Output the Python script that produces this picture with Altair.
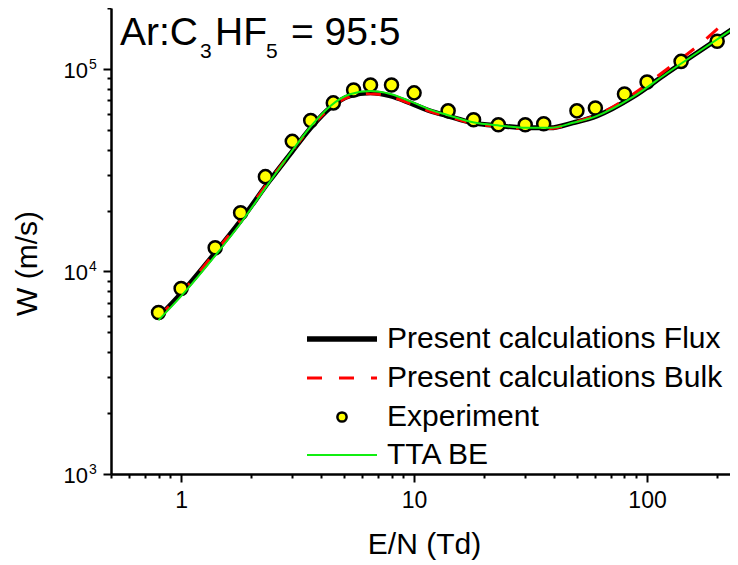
import altair as alt
import pandas as pd

# ---------------- data ----------------
exp_E = [0.8, 1.0, 1.4, 1.8, 2.3, 3.0, 3.6, 4.5, 5.5, 6.5, 8.0, 10, 14, 18, 23, 30, 36, 50, 60, 80, 100, 140, 200]
exp_W = [6280, 8250, 13100, 19500, 29400, 43900, 55700, 68000, 78800, 83400, 83400, 76200, 62100, 56100,
         53000, 53000, 53600, 62100, 64200, 75300, 86300, 109000, 137000]

flux_E = [0.8, 1.0, 1.37, 1.8, 2.4, 2.94, 3.6, 4.36, 5.3, 6.5, 7.9, 9.6, 11.7, 13.9, 17.9, 23.4, 30.5, 38.4,
          48, 61, 87, 122, 169, 230]
flux_W = [5940, 7790, 12000, 17800, 28100, 38000, 51200, 64300, 73600, 76200, 73600, 68000, 62100, 58700,
          54200, 52400, 51200, 51200, 54200, 58700, 72800, 95500, 123000, 156000]

bulk_E = [0.8, 1.0, 1.37, 1.8, 2.4, 2.94, 3.6, 4.36, 5.3, 6.5, 7.9, 9.6, 11.7, 13.9, 17.9, 23.4, 30.5, 38.4,
          48, 61, 87, 122, 169, 220]
bulk_W = [5950, 7800, 12050, 17900, 28200, 38100, 51400, 64000, 73000, 75500, 73000, 67500, 61800, 58300,
          53800, 51900, 50700, 50800, 54300, 59300, 75000, 100000, 133000, 174000]

tta_E = [0.8, 1.0, 1.37, 1.8, 2.4, 2.94, 3.6, 4.36, 5.3, 6.5, 7.9, 9.6, 11.7, 13.9, 17.9, 23.4, 30.5, 38.4,
         48, 61, 87, 122, 169, 230]
tta_W = [5750, 7550, 11600, 17300, 27700, 38300, 52000, 65500, 75000, 77800, 75300, 69400, 63000, 59300,
         54500, 52500, 51200, 51200, 54200, 58700, 72800, 95500, 123000, 156000]

x_ticks = [0.5, 0.6, 0.7, 0.8, 0.9, 1, 2, 3, 4, 5, 6, 7, 8, 9, 10, 20, 30, 40, 50, 60, 70, 80, 90, 100, 200]
y_ticks = [1000, 2000, 3000, 4000, 5000, 6000, 7000, 8000, 9000,
           10000, 20000, 30000, 40000, 50000, 60000, 70000, 80000, 90000,
           100000, 200000]

# y tick labels: base "10" with superscript exponent
y_label_vals = [1000, 10000, 100000]
y_label_base = ["10", "10", "10"]
y_label_exp = ["3", "4", "5"]

legend_labels = ["Present calculations Flux", "Present calculations Bulk", "Experiment", "TTA BE"]

# ---------------- chart ----------------
FONT = "Liberation Sans"
OX, OY = 111, 8  # page position of plot origin

df_exp = pd.DataFrame({"E": exp_E, "W": exp_W})
df_flux = pd.DataFrame({"E": flux_E, "W": flux_W})
df_bulk = pd.DataFrame({"E": bulk_E, "W": bulk_W})
df_tta = pd.DataFrame({"E": tta_E, "W": tta_W})
df_ylab = pd.DataFrame({"W": y_label_vals, "base": y_label_base, "exp": y_label_exp})

x_scale = alt.Scale(type="log", domain=[0.5, 227], nice=False)
y_scale = alt.Scale(type="log", domain=[1000, 200000], nice=False)

decade = "abs(log(datum.value)/LN10 - round(log(datum.value)/LN10)) < 0.001"

x_axis = alt.Axis(
    title="E/N (Td)", values=x_ticks, grid=False,
    labelExpr=f"({decade}) ? format(datum.value, 'd') : ''",
    tickSize={"condition": {"test": decade, "value": 8}, "value": 4},
    tickWidth=2, tickColor="black", domainColor="black", domainWidth=2.5,
    labelFont=FONT, labelFontSize=23, labelColor="black", labelPadding=7,
    labelFlush=False, labelOverlap=False,
    titleFont=FONT, titleFontSize=30, titleFontWeight="normal", titleColor="black",
    titleX=313, titleY=79, titleBaseline="alphabetic", titleAlign="center",
)
y_axis = alt.Axis(
    title="W (m/s)", values=y_ticks, grid=False, labels=False,
    tickSize={"condition": {"test": decade, "value": 8}, "value": 4},
    tickWidth=2, tickColor="black", domainColor="black", domainWidth=2.5,
    titleFont=FONT, titleFontSize=30, titleFontWeight="normal", titleColor="black",
    titleX=-84, titleY=255, titleAngle=270, titleAlign="center", titleBaseline="middle",
)

X = alt.X("E:Q", scale=x_scale, axis=x_axis)
Y = alt.Y("W:Q", scale=y_scale, axis=y_axis)

flux = alt.Chart(df_flux).mark_line(color="black", strokeWidth=5, interpolate="monotone").encode(x=X, y=Y)
bulk = alt.Chart(df_bulk).mark_line(color="#FF0000", strokeWidth=3, strokeDash=[15, 16],
                                    interpolate="monotone").encode(x=X, y=Y)
tta = alt.Chart(df_tta).mark_line(color="#11EE11", strokeWidth=2, interpolate="monotone").encode(x=X, y=Y)
pts = alt.Chart(df_exp).mark_point(shape="circle", filled=True, fill="#FFFF00", fillOpacity=1,
                                   stroke="black", strokeWidth=2.5, size=170, opacity=1).encode(x=X, y=Y)

ylab_base = alt.Chart(df_ylab).mark_text(font=FONT, fontSize=22, align="right", baseline="middle",
                                         dy=2, color="black").encode(
    x=alt.value(88 - OX), y=Y, text="base:N")
ylab_exp = alt.Chart(df_ylab).mark_text(font=FONT, fontSize=14, align="left", baseline="middle",
                                        dy=-4, color="black").encode(
    x=alt.value(89 - OX), y=Y, text="exp:N")

one = alt.Data(values=[{"k": 1}])


def txt(s, px, py, size, baseline="alphabetic"):
    return alt.Chart(one).mark_text(text=s, font=FONT, fontSize=size, align="left", baseline=baseline,
                                    color="black").encode(x=alt.value(px - OX), y=alt.value(py - OY))


def rule(px1, px2, py, **kw):
    return alt.Chart(one).mark_rule(**kw).encode(
        x=alt.value(px1 - OX), x2=alt.value(px2 - OX), y=alt.value(py - OY))


# title with subscripts
title_layers = [
    txt("Ar:C", 120, 45, 39),
    txt("3", 200, 58, 21),
    txt("HF", 215, 45, 39),
    txt("5", 266, 58, 21),
    txt("= 95:5", 291, 45, 39),
]

# legend
rows = [339, 378, 417, 455]
legend_layers = [
    rule(307, 377, rows[0], color="black", strokeWidth=5.5),
    rule(307, 377, rows[1], color="#FF0000", strokeWidth=3, strokeDash=[15, 17]),
    alt.Chart(one).mark_point(shape="circle", filled=True, fill="#FFFF00", fillOpacity=1, stroke="black",
                              strokeWidth=2.5, size=85, opacity=1).encode(
        x=alt.value(342 - OX), y=alt.value(rows[2] - OY)),
    rule(307, 377, rows[3], color="#11EE11", strokeWidth=2),
]
for lab, r in zip(legend_labels, rows):
    legend_layers.append(txt(lab, 387, r, 30, baseline="middle"))

chart = alt.layer(flux, bulk, pts, tta, ylab_base, ylab_exp, *title_layers, *legend_layers).properties(
    width=619, height=466,
    autosize=alt.AutoSizeParams(type="none"),
    padding={"left": 103, "top": 0, "right": 0, "bottom": 88},
    background="white",
).configure_view(stroke=None)

chart.save("out.html", embed_options={"renderer": "svg", "actions": False})
